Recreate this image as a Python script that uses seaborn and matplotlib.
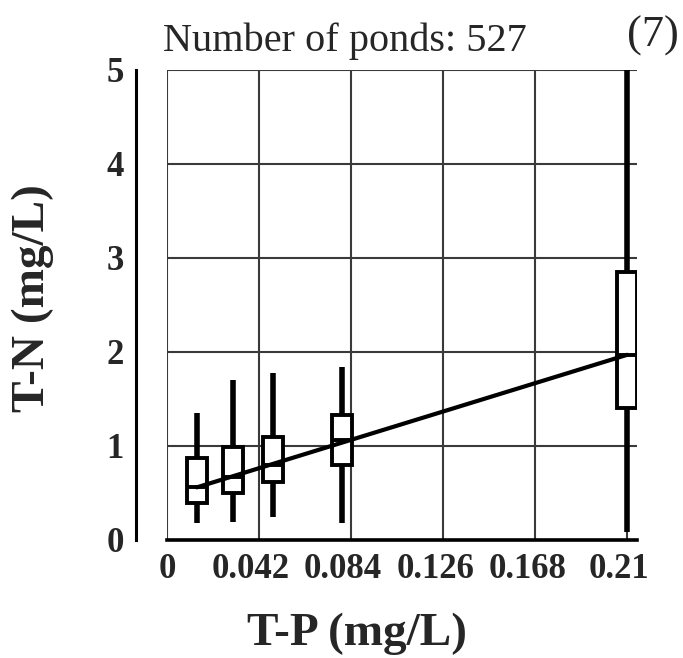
import numpy as np
import pandas as pd
import matplotlib
matplotlib.use("Agg")
import matplotlib.pyplot as plt
import matplotlib.transforms as mtransforms
import seaborn as sns

# box stats: (T-P position, whisker low, Q1, median, Q3, whisker high)
tp_pos = [0.0136, 0.030, 0.0485, 0.080, 0.21]
whis_lo = [0.18, 0.19, 0.24, 0.18, 0.09]
q1 = [0.39, 0.50, 0.62, 0.80, 1.40]
med = [0.56, 0.67, 0.80, 1.06, 1.97]
q3 = [0.87, 0.99, 1.10, 1.33, 2.85]
whis_hi = [1.35, 1.70, 1.78, 1.84, 5.00]

x_ticks = [0, 0.042, 0.084, 0.126, 0.168, 0.21]
x_ticklabels = ["0", "0.042", "0.084", "0.126", "0.168", "0.21"]
y_ticks = [0, 1, 2, 3, 4, 5]

rows = []
for i, p in enumerate(tp_pos):
    for v in (whis_lo[i], q1[i], med[i], q3[i], whis_hi[i]):
        rows.append({"TP": p, "TN": v})
df = pd.DataFrame(rows)

sns.set_style("white")
plt.rcParams["font.family"] = ["Liberation Serif", "DejaVu Serif"]

fig = plt.figure(figsize=(6.83, 6.58), dpi=100)
ax = fig.add_axes([167 / 683, 1 - 540 / 658, 470 / 683, 470 / 658])

sns.boxplot(data=df, x="TP", y="TN", native_scale=True, width=0.55,
            whis=(0, 100), color="white", linecolor="black", linewidth=2.8,
            showcaps=False, whiskerprops=dict(linewidth=4),
            medianprops=dict(linewidth=2.8), ax=ax, zorder=3)

sns.lineplot(x=[tp_pos[0], tp_pos[-1]], y=[med[0], med[-1]], color="black",
             linewidth=3, ax=ax, zorder=4)

ax.set_xlim(0, 0.2145)
ax.set_ylim(0, 5)
ax.set_xticks(x_ticks)
ax.set_xticklabels(x_ticklabels)
ax.set_yticks(y_ticks)
ax.grid(True, color="#3a3a3a", linewidth=1.5)
ax.set_axisbelow(True)

for s in ("top", "right"):
    ax.spines[s].set_visible(False)
ax.spines["left"].set_position(("outward", 22))
ax.spines["left"].set_linewidth(2.2)
ax.spines["bottom"].set_linewidth(2.6)
for s in ("left", "bottom"):
    ax.spines[s].set_color("black")

ax.tick_params(axis="both", direction="out", length=6, width=1.6, color="black",
               labelsize=25, pad=3)
for lbl in ax.get_xticklabels() + ax.get_yticklabels():
    lbl.set_fontweight("bold")
shift = mtransforms.ScaledTranslation(-8 / 100, 0, fig.dpi_scale_trans)
for lbl in ax.get_xticklabels()[1:]:
    lbl.set_transform(lbl.get_transform() + shift)

ax.set_xlabel("T-P (mg/L)", fontsize=34, fontweight="bold", ha="center", va="center")
ax.xaxis.set_label_coords((357 - 167) / 470, (540 - 634) / 470)
ax.set_ylabel("T-N (mg/L)", fontsize=34, fontweight="bold", ha="center", va="center")
ax.yaxis.set_label_coords((33 - 167) / 470, (540 - 298) / 470)

fig.text(163 / 683, 1 - 51 / 658, "Number of ponds: 527", fontsize=29, va="baseline", ha="left")
fig.text(627 / 683, 1 - 47 / 658, "(7)", fontsize=32, va="baseline", ha="left")

fig.savefig("out.png", dpi=100)
